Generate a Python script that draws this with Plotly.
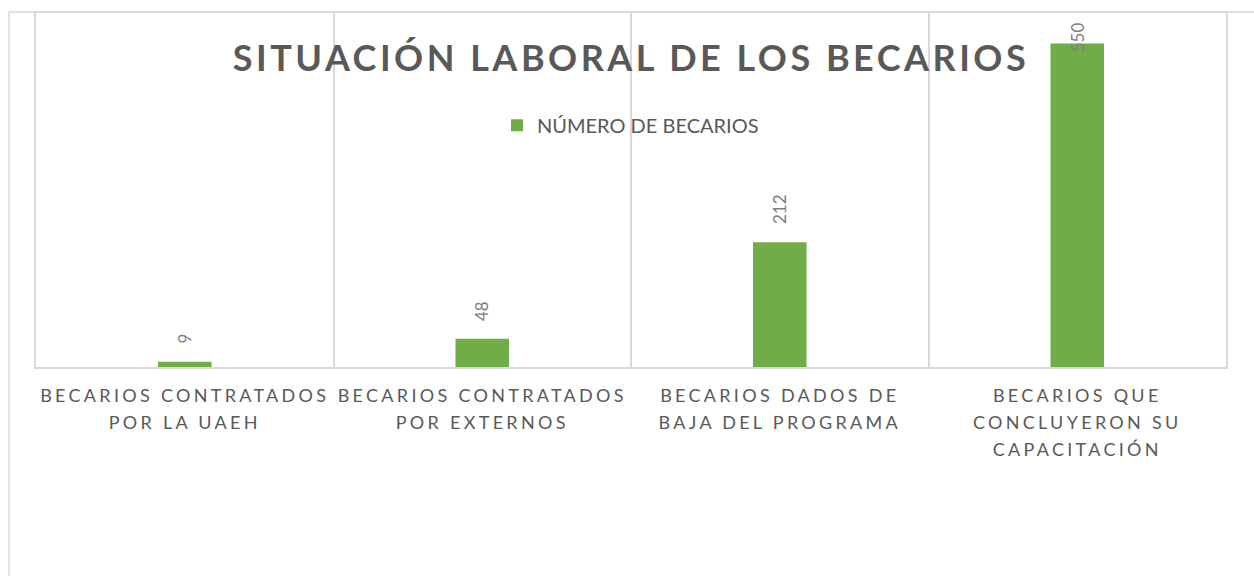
import plotly.graph_objects as go

# ---- data ----
categories = [
    "BECARIOS CONTRATADOS POR LA UAEH",
    "BECARIOS CONTRATADOS POR EXTERNOS",
    "BECARIOS DADOS DE BAJA DEL PROGRAMA",
    "BECARIOS QUE CONCLUYERON SU CAPACITACIÓN",
]
tick_labels = [
    "BECARIOS CONTRATADOS<br>POR LA UAEH",
    "BECARIOS CONTRATADOS<br>POR EXTERNOS",
    "BECARIOS DADOS DE<br>BAJA DEL PROGRAMA",
    "BECARIOS QUE<br>CONCLUYERON SU<br>CAPACITACIÓN",
]
values = [9, 48, 212, 550]
series_name = "NÚMERO DE BECARIOS"
title_text = "SITUACIÓN LABORAL DE LOS BECARIOS"

# ---- style ----
W, H = 1254, 576
M_L, M_R, M_T, M_B = 36, 28, 11, 209
Y_MAX = 602
BAR_COLOR = "#70AD47"
GRID = "#D9D9D9"
TXT = "#595959"
LBL = "#808080"
FONT = "Lato"

fig = go.Figure()
fig.add_trace(go.Bar(
    x=categories, y=values, name=series_name,
    marker=dict(color=BAR_COLOR, line=dict(width=0)),
    showlegend=True,
))

# data labels (rotated), placed from data values through the axes
label_room = 85  # data units needed above a bar for its label
for c, v in zip(categories, values):
    if v + label_room > Y_MAX:
        fig.add_annotation(x=c, y=Y_MAX, xref="x", yref="y", text=str(v),
                           textangle=-90, showarrow=False, yanchor="top",
                           yshift=-7, font=dict(family=FONT, size=17, color=LBL))
    else:
        fig.add_annotation(x=c, y=v, xref="x", yref="y", text=str(v),
                           textangle=-90, showarrow=False, yanchor="bottom",
                           yshift=16, font=dict(family=FONT, size=17, color=LBL))

# outer chart border (extends past the visible window on right/bottom)
pw = W - M_L - M_R
ph = H - M_T - M_B
fig.add_shape(type="rect", xref="paper", yref="paper",
              x0=(9 - M_L) / pw, x1=(W + 10 - M_L) / pw,
              y0=-1.0, y1=(ph + 1) / ph,
              line=dict(color=GRID, width=1.5), fillcolor="rgba(0,0,0,0)",
              layer="below")

fig.update_layout(
    width=W, height=H, autosize=False,
    margin=dict(l=M_L, r=M_R, t=M_T, b=M_B, pad=0),
    paper_bgcolor="white", plot_bgcolor="white",
    bargap=0.82,
    font=dict(family=FONT, color=TXT),
    title=dict(text="<b>" + title_text + "</b>", x=0.5, xref="paper",
               y=1 - 58 / H, yref="container", xanchor="center", yanchor="middle",
               font=dict(family=FONT, size=36, color=TXT)),
    showlegend=True,
    legend=dict(orientation="h", x=(497 - M_L) / pw, xanchor="left",
                y=(ph - (124 - M_T)) / ph, yanchor="middle",
                font=dict(family=FONT, size=20, color=TXT),
                bgcolor="rgba(0,0,0,0)", itemwidth=30),
    xaxis=dict(
        tickmode="array", tickvals=categories, ticktext=tick_labels,
        tickangle=0, ticks="", tickson="boundaries",
        showgrid=True, gridcolor=GRID, gridwidth=1.5,
        showline=True, linecolor=GRID, linewidth=1.5, mirror=True,
        tickfont=dict(family=FONT, size=18, color=TXT),
        ticklabelstandoff=12,
        zeroline=False, fixedrange=True,
    ),
    yaxis=dict(
        range=[0, Y_MAX], showgrid=False, showticklabels=False, ticks="",
        zeroline=False, showline=True, linecolor=GRID, linewidth=1.5, mirror=True,
        fixedrange=True,
    ),
)

post = """
document.body.style.margin = '0';
var st = document.createElement('style');
st.textContent = '.xtick text { letter-spacing: 3.3px; } .gtitle { letter-spacing: 3.5px; }';
document.head.appendChild(st);
var gd = document.getElementById('{plot_id}');
function fixLines() {
  var texts = gd.querySelectorAll('.xtick text');
  texts.forEach(function(t) {
    var lines = t.querySelectorAll('tspan.line');
    if (!lines.length) return;
    var base = lines[0].getAttribute('data-base');
    if (base === null) {
      base = parseFloat(lines[0].getAttribute('dy')) || 0;
      lines[0].setAttribute('data-base', base);
    }
    base = parseFloat(base);
    lines.forEach(function(l, i) { l.setAttribute('dy', (base + i * 1.5) + 'em'); });
  });
}
fixLines();
if (gd.on) gd.on('plotly_afterplot', fixLines);
setTimeout(fixLines, 50); setTimeout(fixLines, 300);
"""

fig.write_html("out.html", config={"displayModeBar": False, "responsive": False},
               post_script=post)
